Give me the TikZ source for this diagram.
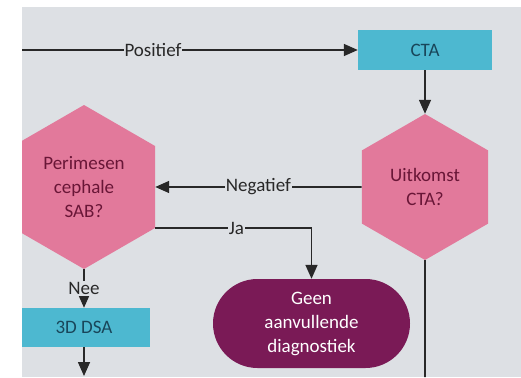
\documentclass[tikz,border=0pt]{standalone}
\usepackage{fontspec}
\setmainfont{Carlito}
\usetikzlibrary{shapes.geometric,shapes.misc,arrows.meta,positioning}
\definecolor{bgray}{RGB}{221,224,228}
\definecolor{ctablue}{RGB}{77,184,208}
\definecolor{hexpink}{RGB}{226,121,155}
\definecolor{endpurple}{RGB}{122,26,86}
\definecolor{hextext}{RGB}{105,22,55}
\definecolor{boxtext}{RGB}{25,70,90}
\definecolor{linegray}{RGB}{40,40,40}
\tikzset{
    block/.style = {draw=none, fill=ctablue, rectangle,
        minimum height=40pt,
        minimum width=134pt, inner sep=0pt, text=boxtext, align=center},
    decision/.style = {regular polygon, regular polygon sides=6,
        shape border rotate=30, fill=hexpink, inner sep=0pt, text=hextext, align=center},
    terminal/.style = {rounded rectangle, fill=endpurple,
        minimum width=197pt, minimum height=89pt, inner sep=0pt, text=white, align=center},
    arrow/.style = {draw=linegray, line width=1.6pt, -{Triangle[length=14pt,width=12pt]}},
    line/.style = {draw=linegray, line width=1.6pt},
    lbl/.style = {fill=bgray, inner sep=1pt, text=linegray}
}

\begin{document}
\begin{tikzpicture}[x=1pt, y=-1pt, font=\fontsize{19}{24}\selectfont]
    \useasboundingbox (0,0) rectangle (521,377);
    \fill [bgray] (22,7) rectangle (521,377);
    \clip (22,7) rectangle (521,377);
    % nodes
    \node [block] (cta) at (425,50) {CTA};
    \node [decision, minimum size=146pt] (uitk) at (425,187) {Uitkomst\\CTA?};
    \node [decision, minimum size=164pt] (sab) at (84,187) {Perimesen\\cephale\\SAB?};
    \node [block, minimum width=132pt, minimum height=39pt] (dsa) at (84,327.5) {3D DSA};
    \node [terminal] (geen) at (311.5,323.5) {Geen\\aanvullende\\diagnostiek};
    \coordinate (in) at (22,50);
    \coordinate (uit) at (425,377);
    \coordinate (dsaout) at (84,376);
    % connectors
    \draw [arrow] (in) -- node [lbl, pos=0.39] {Positief} (cta);
    \draw [arrow] (cta) -- (uitk);
    \draw [arrow] (uitk.west) -- node [lbl] {Negatief} (sab.east);
    \draw [line] (uitk.south) -- (uit);
    \draw [arrow] (sab.-30) -| node [lbl, pos=0.26] {Ja} (geen.north);
    \draw [arrow] (sab.south) -- node [lbl] {Nee} (dsa.north);
    \draw [arrow] (dsa) -- (dsaout);
\end{tikzpicture}
\end{document}
